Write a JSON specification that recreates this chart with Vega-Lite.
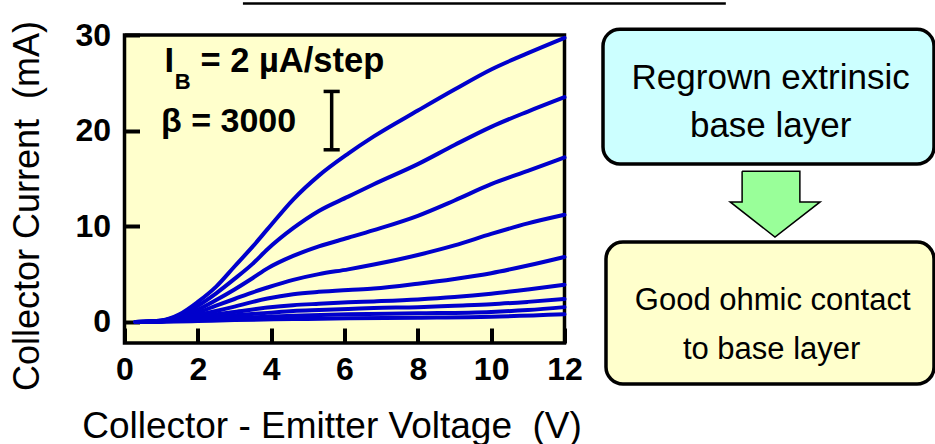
{
  "$schema": "https://vega.github.io/schema/vega-lite/v6.json",
  "autosize": {"type": "pad"},
  "padding": {"left": 7.5, "top": 0, "right": 0, "bottom": 0},
  "background": "white",
  "config": {
    "font": "Liberation Sans",
    "view": {"stroke": null},
    "axis": {"grid": false, "domain": false, "labelColor": "black", "titleColor": "black", "tickColor": "black"}
  },
  "datasets": {
    "curves": [
      {"c":9,"V":0.3,"I":0},{"c":9,"V":1,"I":0.15},{"c":9,"V":1.5,"I":0.8},{"c":9,"V":2,"I":2.1},{"c":9,"V":2.5,"I":3.7},{"c":9,"V":3,"I":5.8},{"c":9,"V":3.5,"I":7.9},{"c":9,"V":3.9,"I":9.7},{"c":9,"V":4.6,"I":12.8},{"c":9,"V":5.3,"I":15.3},{"c":9,"V":6.1,"I":17.6},{"c":9,"V":6.8,"I":19.4},{"c":9,"V":8,"I":22.1},{"c":9,"V":9,"I":24.3},{"c":9,"V":10,"I":26.4},{"c":9,"V":11,"I":28.1},{"c":9,"V":12,"I":29.7},
      {"c":8,"V":0.3,"I":0},{"c":8,"V":1,"I":0.14},{"c":8,"V":1.5,"I":0.7},{"c":8,"V":2,"I":1.7},{"c":8,"V":2.5,"I":3.0},{"c":8,"V":3,"I":4.5},{"c":8,"V":3.5,"I":6.1},{"c":8,"V":3.9,"I":7.6},{"c":8,"V":4.6,"I":9.8},{"c":8,"V":5.3,"I":11.6},{"c":8,"V":6.1,"I":13.1},{"c":8,"V":6.8,"I":14.4},{"c":8,"V":8,"I":16.5},{"c":8,"V":9,"I":18.5},{"c":8,"V":10,"I":20.4},{"c":8,"V":11,"I":22.0},{"c":8,"V":12,"I":23.5},
      {"c":7,"V":0.3,"I":0},{"c":7,"V":1,"I":0.12},{"c":7,"V":1.5,"I":0.6},{"c":7,"V":2,"I":1.3},{"c":7,"V":2.5,"I":2.3},{"c":7,"V":3,"I":3.4},{"c":7,"V":3.5,"I":4.6},{"c":7,"V":3.9,"I":5.6},{"c":7,"V":4.6,"I":6.9},{"c":7,"V":5.3,"I":7.9},{"c":7,"V":6.1,"I":8.8},{"c":7,"V":6.8,"I":9.6},{"c":7,"V":8,"I":11.1},{"c":7,"V":9,"I":12.7},{"c":7,"V":10,"I":14.4},{"c":7,"V":11,"I":15.8},{"c":7,"V":12,"I":17.2},
      {"c":6,"V":0.3,"I":0},{"c":6,"V":1,"I":0.1},{"c":6,"V":1.5,"I":0.5},{"c":6,"V":2,"I":1.0},{"c":6,"V":2.5,"I":1.7},{"c":6,"V":3,"I":2.4},{"c":6,"V":3.5,"I":3.1},{"c":6,"V":3.9,"I":3.6},{"c":6,"V":4.6,"I":4.4},{"c":6,"V":5.3,"I":5.0},{"c":6,"V":6.1,"I":5.5},{"c":6,"V":6.8,"I":6.0},{"c":6,"V":8,"I":7.0},{"c":6,"V":9,"I":8.0},{"c":6,"V":10,"I":9.2},{"c":6,"V":11,"I":10.3},{"c":6,"V":12,"I":11.2},
      {"c":5,"V":0.3,"I":0},{"c":5,"V":1,"I":0.08},{"c":5,"V":1.5,"I":0.4},{"c":5,"V":2,"I":0.75},{"c":5,"V":2.5,"I":1.15},{"c":5,"V":3,"I":1.6},{"c":5,"V":3.5,"I":2.1},{"c":5,"V":3.9,"I":2.45},{"c":5,"V":4.6,"I":2.9},{"c":5,"V":5.3,"I":3.15},{"c":5,"V":6.1,"I":3.35},{"c":5,"V":6.8,"I":3.5},{"c":5,"V":8,"I":4.0},{"c":5,"V":9,"I":4.5},{"c":5,"V":10,"I":5.1},{"c":5,"V":11,"I":5.9},{"c":5,"V":12,"I":6.8},
      {"c":4,"V":0.3,"I":0},{"c":4,"V":1,"I":0.06},{"c":4,"V":1.5,"I":0.3},{"c":4,"V":2,"I":0.5},{"c":4,"V":2.5,"I":0.8},{"c":4,"V":3,"I":1.05},{"c":4,"V":3.9,"I":1.5},{"c":4,"V":4.6,"I":1.75},{"c":4,"V":5.3,"I":1.9},{"c":4,"V":6.1,"I":2.05},{"c":4,"V":6.8,"I":2.15},{"c":4,"V":8,"I":2.35},{"c":4,"V":9,"I":2.6},{"c":4,"V":10,"I":2.95},{"c":4,"V":11,"I":3.4},{"c":4,"V":12,"I":3.9},
      {"c":3,"V":0.3,"I":0},{"c":3,"V":1,"I":0.05},{"c":3,"V":1.5,"I":0.2},{"c":3,"V":2,"I":0.35},{"c":3,"V":3,"I":0.7},{"c":3,"V":3.9,"I":0.95},{"c":3,"V":4.6,"I":1.15},{"c":3,"V":5.3,"I":1.25},{"c":3,"V":6.1,"I":1.35},{"c":3,"V":6.8,"I":1.45},{"c":3,"V":8,"I":1.55},{"c":3,"V":9,"I":1.7},{"c":3,"V":10,"I":1.85},{"c":3,"V":11,"I":2.1},{"c":3,"V":12,"I":2.4},
      {"c":2,"V":0.3,"I":0},{"c":2,"V":1,"I":0.04},{"c":2,"V":2,"I":0.2},{"c":2,"V":3,"I":0.4},{"c":2,"V":3.9,"I":0.55},{"c":2,"V":4.6,"I":0.65},{"c":2,"V":6.1,"I":0.8},{"c":2,"V":8,"I":0.9},{"c":2,"V":10,"I":1.05},{"c":2,"V":11,"I":1.25},{"c":2,"V":12,"I":1.55},
      {"c":1,"V":0.3,"I":0},{"c":1,"V":1,"I":0.02},{"c":1,"V":2,"I":0.1},{"c":1,"V":3,"I":0.2},{"c":1,"V":4.6,"I":0.3},{"c":1,"V":6.1,"I":0.38},{"c":1,"V":8,"I":0.45},{"c":1,"V":10,"I":0.55},{"c":1,"V":12,"I":0.8}
    ],
    "errbar": [
      {"V":5.65,"V2":5.65,"I":18.0,"I2":24.1},
      {"V":5.43,"V2":5.87,"I":24.1,"I2":24.1},
      {"V":5.43,"V2":5.87,"I":18.0,"I2":18.0}
    ],
    "topline": [{"V":3.23,"V2":16.4,"I":33.3}],
    "bigI": [{"V":1.09,"I":26.1,"t":"I"}, {"V":2.07,"I":26.1,"t":"= 2 µA/step"}],
    "subB": [{"V":1.37,"I":24.4,"t":"B"}],
    "beta": [{"V":0.995,"I":19.85,"t":"β = 3000"}],
    "boxes": [
      {"box":"top","x":0,"x2":99.7,"y":101.9,"y2":58.1},
      {"box":"bottom","x":0.9,"x2":99.7,"y":32.8,"y2":-13.3}
    ],
    "arrow": [
      {"o":1,"x":41.9,"y":55.8},{"o":2,"x":59.3,"y":55.8},{"o":3,"x":59.3,"y":45.8},{"o":4,"x":65.4,"y":45.8},
      {"o":5,"x":51.8,"y":34.4},{"o":6,"x":38.3,"y":45.8},{"o":7,"x":41.9,"y":45.8},{"o":8,"x":41.9,"y":55.8}
    ],
    "text1": [{"x":50.5,"y":82.5,"t":"Regrown extrinsic"},{"x":50.5,"y":66.9,"t":"base layer"}],
    "text2": [{"x":51.1,"y":10.7,"t":"Good ohmic contact"},{"x":50.8,"y":-5.2,"t":"to base layer"}]
  },
  "spacing": 38.5,
  "bounds": "flush",
  "hconcat": [
    {
      "width": 440,
      "height": 308,
      "view": {"fill": "#FFFFCC", "stroke": "black", "strokeWidth": 3.5},
      "encoding": {
        "x": {"field": "V", "type": "quantitative",
          "scale": {"domain": [0, 12], "nice": false, "zero": false},
          "axis": {"values": [0,2,4,6,8,10,12], "tickSize": -15, "tickWidth": 4, "labelFontSize": 32, "labelFontWeight": "bold",
            "labelPadding": 26, "labelFlush": false, "labelOverlap": false,
            "title": "Collector - Emitter Voltage\u00a0 (V)", "titleFontSize": 37, "titleFontWeight": "normal",
            "titleX": 207, "titleY": 94, "titleAlign": "center", "titleBaseline": "alphabetic"}},
        "y": {"field": "I", "type": "quantitative",
          "scale": {"domain": [-2.2, 30], "nice": false, "zero": false},
          "axis": {"values": [0,10,20,30], "tickSize": -15, "tickWidth": 4, "labelFontSize": 32, "labelFontWeight": "bold",
            "labelPadding": 29, "labelFlush": false, "labelOverlap": false,
            "title": "Collector Current\u00a0 (mA)", "titleFontSize": 36, "titleFontWeight": "normal",
            "titleX": -86, "titleY": 170.5, "titleAngle": 270, "titleAlign": "center", "titleBaseline": "alphabetic"}}
      },
      "layer": [
        {
          "data": {"name": "curves"},
          "mark": {"type": "line", "color": "#0000CC", "strokeWidth": 4, "interpolate": "monotone", "strokeCap": "round"},
          "encoding": {"detail": {"field": "c", "type": "nominal"}, "order": {"field": "V", "type": "quantitative"}}
        },
        {
          "data": {"name": "errbar"},
          "mark": {"type": "rule", "color": "black", "strokeWidth": 3.5},
          "encoding": {"x2": {"field": "V2"}, "y2": {"field": "I2"}}
        },
        {
          "data": {"name": "topline"},
          "mark": {"type": "rule", "color": "black", "strokeWidth": 2.5},
          "encoding": {"x2": {"field": "V2"}}
        },
        {
          "data": {"name": "bigI"},
          "mark": {"type": "text", "align": "left", "baseline": "alphabetic", "fontSize": 34.5, "fontWeight": "bold", "color": "black"},
          "encoding": {"text": {"field": "t"}}
        },
        {
          "data": {"name": "subB"},
          "mark": {"type": "text", "align": "left", "baseline": "alphabetic", "fontSize": 22, "fontWeight": "bold", "color": "black"},
          "encoding": {"text": {"field": "t"}}
        },
        {
          "data": {"name": "beta"},
          "mark": {"type": "text", "align": "left", "baseline": "alphabetic", "fontSize": 34, "fontWeight": "bold", "color": "black"},
          "encoding": {"text": {"field": "t"}}
        }
      ]
    },
    {
      "width": 332,
      "height": 308,
      "view": {"stroke": null},
      "encoding": {
        "x": {"field": "x", "type": "quantitative", "scale": {"domain": [0, 100], "nice": false, "zero": false}, "axis": null},
        "y": {"field": "y", "type": "quantitative", "scale": {"domain": [0, 100], "nice": false, "zero": false}, "axis": null}
      },
      "layer": [
        {
          "data": {"name": "boxes"},
          "mark": {"type": "rect", "cornerRadius": 17, "stroke": "black", "strokeWidth": 3.5},
          "encoding": {
            "x2": {"field": "x2"}, "y2": {"field": "y2"},
            "fill": {"field": "box", "type": "nominal", "scale": {"domain": ["top", "bottom"], "range": ["#CCFFFF", "#FFFFCC"]}, "legend": null}
          }
        },
        {
          "data": {"name": "arrow"},
          "mark": {"type": "line", "fill": "#99FF99", "stroke": "black", "strokeWidth": 1.5, "strokeJoin": "miter"},
          "encoding": {"order": {"field": "o", "type": "quantitative"}}
        },
        {
          "data": {"name": "text1"},
          "mark": {"type": "text", "align": "center", "baseline": "alphabetic", "fontSize": 35, "color": "black"},
          "encoding": {"text": {"field": "t"}}
        },
        {
          "data": {"name": "text2"},
          "mark": {"type": "text", "align": "center", "baseline": "alphabetic", "fontSize": 31, "color": "black"},
          "encoding": {"text": {"field": "t"}}
        }
      ]
    }
  ]
}
